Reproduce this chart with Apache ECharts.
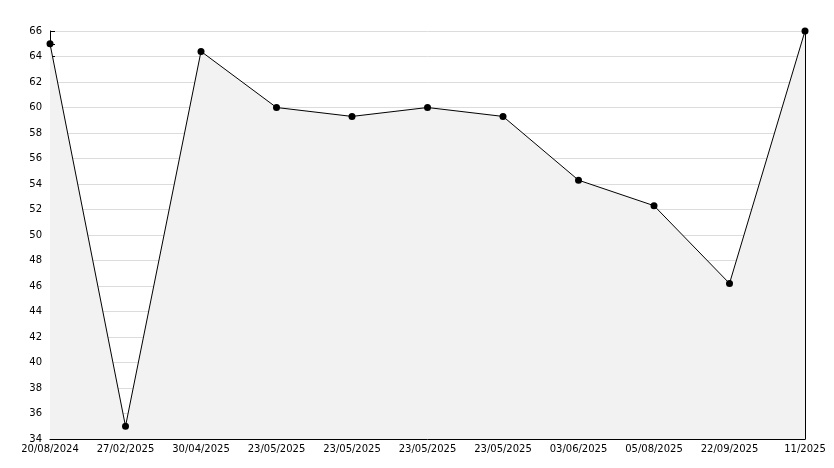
<!DOCTYPE html>
<html><head><meta charset="utf-8">
<script src="https://cdn.jsdelivr.net/npm/echarts@6/dist/echarts.min.js"></script>
<style>html,body{margin:0;padding:0;background:#fff}#c{width:834px;height:468px}</style>
</head><body><div id="c"></div>
<script>
const categories = ["20/08/2024","27/02/2025","30/04/2025","23/05/2025","23/05/2025","23/05/2025","23/05/2025","03/06/2025","05/08/2025","22/09/2025","11/2025"];
const values = [65, 35, 64.4, 60, 59.3, 60, 59.3, 54.3, 52.3, 46.2, 66];
const yMin = 34, yMax = 66, yStep = 2;
const font = "DejaVu Sans";
const chart = echarts.init(document.getElementById('c'), null, {renderer:'canvas'});
chart.setOption({
  animation:false,
  backgroundColor:'#fff',
  grid:{left:50,right:29,top:31,bottom:29,containLabel:false},
  xAxis:{type:'category',data:categories,boundaryGap:false,
    axisLine:{lineStyle:{color:'#000',width:1}},
    axisTick:{inside:true,length:5,alignWithLabel:true,lineStyle:{color:'#000'}},
    axisLabel:{color:'#000',fontFamily:font,fontSize:10,interval:0,margin:5},
    splitLine:{show:false}},
  yAxis:[{type:'value',min:yMin,max:yMax,interval:yStep,
    axisLine:{show:true,lineStyle:{color:'#000',width:1}},
    axisTick:{show:true,inside:true,length:5,lineStyle:{color:'#000'}},
    minorTick:{show:true,splitNumber:2,length:5,lineStyle:{color:'#000'}},
    axisLabel:{color:'#000',fontFamily:font,fontSize:10,margin:8},
    splitLine:{show:true,lineStyle:{color:'#dcdcdc',width:1}}},
    {type:'value',min:yMin,max:yMax,interval:yStep,position:'right',
    axisLine:{show:true,lineStyle:{color:'#000',width:1}},
    axisTick:{show:false},axisLabel:{show:false},splitLine:{show:false}}],
  series:[{type:'line',data:values,symbol:'circle',symbolSize:7,
    itemStyle:{color:'#000'},lineStyle:{color:'#000',width:1},
    areaStyle:{color:'#f2f2f2',opacity:1}}]
});
</script></body></html>
